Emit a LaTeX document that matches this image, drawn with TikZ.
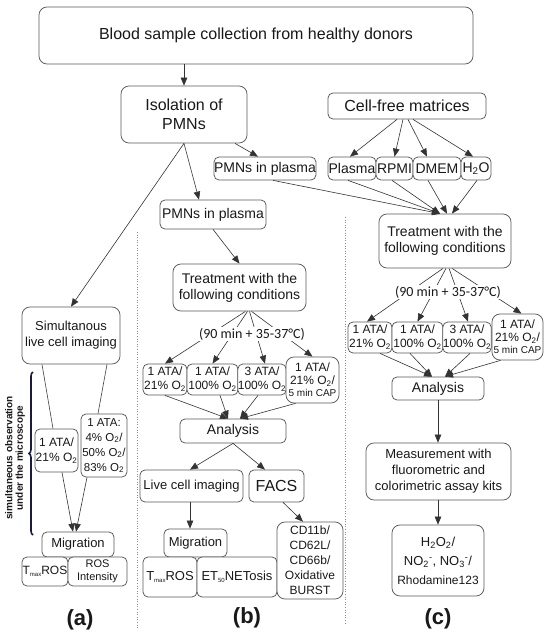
\documentclass[tikz,border=0pt]{standalone}
\usepackage{fontspec}
\setmainfont{Liberation Sans}
\newfontfamily\carl{Carlito}
\usetikzlibrary{arrows.meta,calc,backgrounds,decorations.pathreplacing}
\newcommand\fs[2]{\fontsize{#1}{#2}\selectfont}
\newcommand\tsub[1]{\raisebox{-0.2em}{\fontsize{6}{6}\selectfont #1}}
\newcommand\ox{O\textsubscript{2}}
\definecolor{navy}{HTML}{1A1A40}
\begin{document}
\begin{tikzpicture}[x=1pt,y=-1pt,
  box/.style={draw=black!65, line width=0.75pt, rounded corners=5pt, fill=white, align=center, inner sep=0pt, text=black!90},
  bigbox/.style={box, rounded corners=8pt},
  arr/.style={draw=black!80, line width=0.6pt, -{Triangle[length=8pt,width=6.5pt]}},
  ln/.style={draw=black!75, line width=0.6pt},
  sep/.style={draw=black!45, dotted, line width=0.6pt},
  lbl/.style={font=\fs{22}{24}\bfseries, text=black!90},
  cond/.style={box, font=\fs{12}{14}},
  tlabel/.style={fill=white, inner sep=1pt, font=\carl\fs{14}{16}, text=black!90}]
\useasboundingbox (0,0) rectangle (550,638);
\begin{pgfonlayer}{background}
\fill[white] (0,0) rectangle (550,638);
\end{pgfonlayer}

% separators
\draw[sep] (137,232) -- (137,628);
\draw[sep] (345,217) -- (345,624);

% top
\node[bigbox, minimum width=434pt, minimum height=57pt, font=\fs{16}{19}] (blood) at (256,35.5) {Blood sample collection from healthy donors};
\node[bigbox, minimum width=126pt, minimum height=57pt, font=\fs{16}{19}] (iso) at (184,114.5) {Isolation of\\PMNs};
\node[box, minimum width=158pt, minimum height=26pt, font=\fs{16}{19}] (cf) at (407,106) {Cell-free matrices};
\node[box, minimum width=100pt, minimum height=23pt, font=\fs{14}{16}] (pp1) at (265,168.5) {PMNs in plasma};
\node[box, minimum width=48pt, minimum height=23pt, font=\fs{14}{16}] (plasma) at (352,168.5) {Plasma};
\node[box, minimum width=37pt, minimum height=23pt, font=\fs{14}{16}] (rpmi) at (394.5,168.5) {RPMI};
\node[box, minimum width=48pt, minimum height=23pt, font=\fs{14}{16}] (dmem) at (437,168.5) {DMEM};
\node[box, minimum width=30pt, minimum height=23pt, font=\fs{14}{16}] (h2o) at (476,168.5) {H\textsubscript{2}O};

% left column
\node[bigbox, minimum width=98pt, minimum height=57pt, font=\fs{13}{16}] (sim) at (71,335.5) {Simultanous\\live cell imaging};
\node[box, minimum width=43pt, minimum height=43pt, font=\fs{12}{15}] (l1) at (56.5,450.5) {1 ATA/\\21\% \ox};
\node[box, minimum width=46pt, minimum height=63pt, font=\fs{11.5}{15}] (l2) at (104,445.5) {1 ATA:\\4\% \ox/\\50\% \ox/\\83\% \ox};
\node[box, minimum width=72pt, minimum height=25pt, font=\fs{13}{15}] (migL) at (78,544.5) {Migration};
\node[box, minimum width=46pt, minimum height=29pt, font=\fs{12}{14}] (tmaxL) at (45,571.5) {T\tsub{max}ROS};
\node[box, minimum width=59pt, minimum height=29pt, font=\fs{11}{13}] (rosI) at (97.5,571.5) {ROS\\Intensity};
\node[rotate=90, align=center, font=\fs{10}{10.5}\bfseries, text=black!90] (obs) at (15,458) {simultaneous observation\\under the microscope};
\draw[decorate, decoration={brace, amplitude=4pt}, line width=1.6pt, draw=navy] (33,535) -- (33,372);
\node[lbl] (la) at (80,620) {(a)};

% middle column
\node[box, minimum width=106pt, minimum height=29pt, font=\fs{14}{16}] (pp2) at (213,214.5) {PMNs in plasma};
\node[bigbox, minimum width=133pt, minimum height=47pt, font=\fs{14}{16}] (trM) at (239.5,287.5) {Treatment with the\\following conditions};
\node[cond, minimum width=44pt, minimum height=31pt] (m1) at (165,379.5) {1 ATA/\\21\% \ox};
\node[cond, minimum width=51pt, minimum height=31pt] (m2) at (212.5,379.5) {1 ATA/\\100\% \ox};
\node[cond, minimum width=46pt, minimum height=31pt] (m3) at (262,379.5) {3 ATA/\\100\% \ox};
\node[cond, rounded corners=8pt, minimum width=53pt, minimum height=46pt, font=\fs{12}{12.5}] (m4) at (312.5,380) {1 ATA/\\21\% \ox/\\{\fs{10}{12}5 min CAP}};
\node[box, minimum width=106pt, minimum height=24pt, font=\fs{14}{16}] (anM) at (233,431) {Analysis};
\node[box, minimum width=103pt, minimum height=32pt, font=\fs{13}{15}] (lci) at (191.5,486) {Live cell imaging};
\node[box, minimum width=55pt, minimum height=32pt, font=\fs{16}{18}] (facs) at (276.5,486) {FACS};
\node[box, minimum width=63pt, minimum height=28pt, font=\fs{13}{15}] (migM) at (195.5,543) {Migration};
\node[box, minimum width=54pt, minimum height=40pt, font=\fs{13}{15}] (tmaxM) at (170,577) {T\tsub{max}ROS};
\node[box, minimum width=80pt, minimum height=40pt, font=\fs{13}{15}] (et) at (237,577) {ET\tsub{50}NETosis};
\node[bigbox, minimum width=66pt, minimum height=77pt, font=\fs{12}{15}] (cd) at (310,560.5) {CD11b/\\CD62L/\\CD66b/\\Oxidative\\BURST};
\node[lbl] (lb) at (247,618) {(b)};

% right column
\node[bigbox, minimum width=132pt, minimum height=54pt, font=\fs{14}{16.5}] (trR) at (445,241) {Treatment with the\\following conditions};
\node[cond, minimum width=44pt, minimum height=31pt] (r1) at (370,337.5) {1 ATA/\\21\% \ox};
\node[cond, minimum width=51pt, minimum height=31pt] (r2) at (417.5,337.5) {1 ATA/\\100\% \ox};
\node[cond, minimum width=48pt, minimum height=31pt] (r3) at (467,337.5) {3 ATA/\\100\% \ox};
\node[cond, rounded corners=8pt, minimum width=51pt, minimum height=46pt, font=\fs{12}{12.5}] (r4) at (517.5,337) {1 ATA/\\21\% \ox/\\{\fs{10}{12}5 min CAP}};
\node[box, minimum width=92pt, minimum height=23pt, font=\fs{14}{16}] (anR) at (438,388.5) {Analysis};
\node[bigbox, minimum width=145pt, minimum height=57pt, font=\fs{13}{16}] (meas) at (438.5,471.5) {Measurement with\\fluorometric and\\colorimetric assay kits};
\node[bigbox, minimum width=92pt, minimum height=71pt, font=\fs{13}{19}] (res) at (438,560.5) {H\textsubscript{2}\ox/\\NO\textsubscript{2}\textsuperscript{-}, NO\textsubscript{3}\textsuperscript{-}/\\{\fs{12}{14}Rhodamine123}};
\node[lbl] (lc) at (438,619) {(c)};

% fan lines behind the condition labels
\begin{pgfonlayer}{background}
\draw[arr] ([xshift=6pt]trM.south) -- (m1.north);
\draw[arr] ([xshift=8pt]trM.south) -- (m2.north);
\draw[arr] ([xshift=10pt]trM.south) -- ([xshift=3pt]m3.north);
\draw[arr] ([xshift=12pt]trM.south) -- (m4.north);
\draw[arr] ([xshift=-2pt]trR.south) -- ([xshift=-3pt]r1.north);
\draw[arr] ([xshift=1pt]trR.south) -- (r2.north);
\draw[arr] ([xshift=4pt]trR.south) -- ([xshift=1pt]r3.north);
\draw[arr] ([xshift=7pt]trR.south) -- ([xshift=4pt]r4.north);
\end{pgfonlayer}
\node[tlabel] (lblM) at (252,334) {(90 min + 35-37°C)};
\node[tlabel] (lblR) at (448,292) {(90 min + 35-37°C)};

% connectors top
\draw[arr] (iso.north |- blood.south) -- (iso.north);
\draw[arr] (iso.south) -- (sim.north);
\draw[arr] (iso.south) -- ([xshift=-14pt]pp2.north);
\draw[arr] ([xshift=51pt]iso.south) -- ([xshift=-7pt]pp1.north);
\draw[arr] ([xshift=-10pt]cf.south) -- ([xshift=-2pt]plasma.north);
\draw[arr] ([xshift=-4pt]cf.south) -- (rpmi.north);
\draw[arr] ([xshift=1pt]cf.south) -- ([xshift=-10pt]dmem.north);
\draw[arr] ([xshift=6pt]cf.south) -- ([xshift=-3pt]h2o.north);
\draw[arr] ([xshift=8pt]pp1.south) -- ([xshift=-5pt]trR.north);
\draw[arr] ([xshift=-4pt]plasma.south) -- ([xshift=-5pt]trR.north);
\draw[arr] ([xshift=-2.5pt]rpmi.south) -- ([xshift=-5pt]trR.north);
\draw[arr] ([xshift=-9pt]dmem.south) -- ([xshift=2pt]trR.north);
\draw[arr] ([xshift=1pt]h2o.south) -- ([xshift=7pt]trR.north);

% left
\draw[ln] ([xshift=-29pt]sim.south) -- ([xshift=-3.5pt]l1.north);
\draw[ln] ([xshift=36pt]sim.south) -- ([xshift=-6pt]l2.north);
\draw[arr] ([xshift=5.5pt]l1.south) -- ([xshift=-5pt]migL.north);
\draw[arr] ([xshift=-17pt]l2.south) -- ([xshift=-2pt]migL.north);

% middle
\draw[arr] (pp2.south) -- (trM.north);
\draw[arr] (m1.south) -- ([xshift=-5pt]anM.north);
\draw[arr] ([xshift=7.5pt]m2.south) -- ([xshift=-5pt]anM.north);
\draw[arr] ([xshift=-4pt]m3.south) -- ([xshift=7pt]anM.north);
\draw[arr] ([xshift=-17pt]m4.south) -- ([xshift=7pt]anM.north);
\draw[arr] (anM.south) -- ([xshift=-1.5pt]lci.north);
\draw[arr] (anM.south) -- ([xshift=-11.5pt]facs.north);
\draw[arr] ([xshift=-1.5pt]lci.south) -- ([xshift=-5.5pt]migM.north);
\draw[arr] ([xshift=6.5pt]facs.south) -- ([xshift=-7pt]cd.north);

% right
\draw[arr] ([xshift=10pt]r1.south) -- ([xshift=-6pt]anR.north);
\draw[arr] ([xshift=-7.5pt]r2.south) -- ([xshift=-6pt]anR.north);
\draw[arr] ([xshift=3pt]r3.south) -- ([xshift=7pt]anR.north);
\draw[arr] ([xshift=-17pt]r4.south) -- ([xshift=7pt]anR.north);
\draw[arr] (anR.south) -- (anR.south |- meas.north);
\draw[arr] (anR.south |- meas.south) -- (anR.south |- res.north);
\end{tikzpicture}
\end{document}
